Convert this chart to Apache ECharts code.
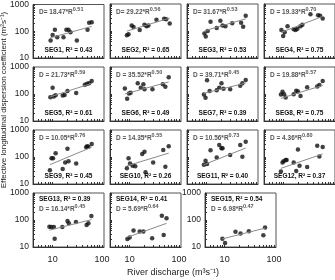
<!DOCTYPE html>
<html>
<head>
<meta charset="utf-8">
<script src="https://cdn.jsdelivr.net/npm/echarts@6/dist/echarts.min.js"></script>
<style>
  html, body { margin: 0; padding: 0; background: #fff; }
  #chart { width: 335px; height: 280px; }
</style>
</head>
<body>
<div id="chart"></div>
<script>
// segment labels, fit stats
const segNames = ['SEG1', 'SEG2', 'SEG3', 'SEG4', 'SEG5', 'SEG6', 'SEG7', 'SEG8',
  'SEG9', 'SEG10', 'SEG11', 'SEG12', 'SEG13', 'SEG14', 'SEG15']
const r2 = ['0.43', '0.65', '0.53', '0.75', '0.61', '0.49', '0.39', '0.75',
  '0.45', '0.26', '0.40', '0.37', '0.39', '0.41', '0.54']
const coef = ['18.47', '29.22', '31.67', '19.33', '21.73', '35.52', '39.71', '19.88',
  '10.05', '14.35', '10.56', '4.36', '16.14', '5.69', '6.98']
const expo = ['0.51', '0.56', '0.53', '0.70', '0.59', '0.50', '0.45', '0.57',
  '0.76', '0.55', '0.73', '0.80', '0.45', '0.64', '0.47']

// [river discharge, dispersion coefficient]
const seg1 = [[9.1, 45], [10, 73], [11.1, 115], [12.4, 60], [16.6, 60], [19, 115], [21, 115], [23, 92], [31, 45], [51, 115], [55, 210], [62, 215]]
const seg2 = [[8.8, 70], [9.5, 75], [11, 160], [12, 140], [16, 110], [20, 170], [22, 150], [24, 160], [35, 260], [50, 285], [55, 270], [65, 190]]
const seg3 = [[9, 80], [9.6, 62], [10.5, 100], [12, 220], [16, 130], [19, 240], [21, 160], [24, 150], [33, 195], [50, 200], [55, 145], [62, 370]]
const seg4 = [[9, 110], [9.8, 65], [10.5, 90], [12, 150], [16, 115], [17.5, 110], [19, 120], [22, 150], [24, 170], [35, 420], [50, 380], [55, 370], [62, 290]]
const seg5 = [[9, 75], [10, 170], [10.5, 80], [11.5, 90], [16, 88], [17.5, 92], [20, 130], [30, 110], [45, 220], [50, 240], [55, 250], [62, 300]]
const seg6 = [[8, 160], [8.9, 67], [9.7, 105], [10.5, 112], [14.6, 250], [16.8, 170], [19, 230], [20, 150], [29, 150], [47, 230], [53, 187], [62, 420]]
const seg7 = [[8.8, 95], [9.5, 72], [10.2, 320], [11.5, 130], [16, 138], [18, 170], [20, 250], [22, 158], [30, 150], [48, 200], [53, 250], [62, 330]]
const seg8 = [[8.8, 95], [9.5, 122], [10.2, 97], [11, 74], [16, 97], [18, 133], [19.5, 125], [22, 85], [30, 177], [48, 190], [53, 215], [62, 300]]
const seg9 = [[8.8, 32], [9.5, 89], [10.2, 89], [11.5, 137], [16, 36], [18, 63], [20, 200], [21, 69], [30, 58], [48, 229], [50, 250], [53, 240], [62, 300]]
const seg10 = [[8.8, 38], [9.5, 89], [10.2, 58], [11.5, 47], [13, 45], [18, 130], [20, 158], [21, 27], [30, 63], [48, 180], [53, 44], [62, 250]]
const seg11 = [[8.8, 52], [9.5, 73], [10.2, 55], [12, 178], [16, 95], [18, 278], [20, 209], [21, 209], [30, 118], [48, 278], [53, 103], [62, 370]]
const seg12 = [[8.8, 29], [9.5, 63], [10, 69], [11, 78], [11.5, 78], [16, 63], [18, 30], [19.5, 190], [21, 47], [30, 43], [48, 260], [53, 105], [62, 235]]
const seg13 = [[8.6, 56], [9.4, 55], [10.6, 55], [11, 20], [15.7, 55], [20, 92], [21.3, 75], [29.7, 84], [48.8, 65], [53, 75], [61, 140]]
const seg14 = [[9, 19.6], [10, 22.5], [12, 41], [16, 37.5], [19, 37.5], [28.6, 21], [45, 144], [49, 28], [56, 115]]
const seg15 = [[9, 20], [10.2, 14], [16.6, 36.5], [21, 31.6], [31, 38.5], [61, 27], [66, 52.5]]
const points = [seg1, seg2, seg3, seg4, seg5, seg6, seg7, seg8, seg9, seg10, seg11, seg12, seg13, seg14, seg15]

// fitted power-law lines, end points
const trends = [
  [[9, 57], [62, 152]], [[8.8, 99], [65, 302]], [[9, 102], [62, 282]], [[9, 90], [62, 347]],
  [[9, 79], [62, 248]], [[8, 100], [62, 280]], [[8.8, 106], [62, 254]], [[8.8, 69], [62, 209]],
  [[8.8, 52], [62, 231]], [[8.8, 47], [62, 139]], [[8.8, 52], [62, 215]], [[8.8, 38], [62, 130]],
  [[8.6, 42], [61, 103]], [[9, 23], [56, 75]], [[9, 20], [66, 50]]
]

const xTicks = [4, 5, 6, 7, 8, 9, 10, 20, 30, 40, 50, 60, 70, 80, 90, 100]
const yTicks = [10, 20, 30, 40, 50, 60, 70, 80, 90, 100, 200, 300, 400, 500, 600, 700, 800, 900, 1000]
const xLabels = [10, 100]
const yLabels = [10, 100, 1000]

const colLeft = [33, 110, 187, 264]
const rowTop = [4, 67, 130, 193]
const W = 71, H = 54

const grids = [], xAxes = [], yAxes = [], series = [], titles = []

points.forEach((pts, i) => {
  const row = Math.floor(i / 4)
  const col = i % 4
  const left = i === 14 ? 205 : colLeft[col]
  const top = rowTop[row]
  const bottomRow = row === 3
  const showY = col === 0 || i === 14

  grids.push({ left: left, top: top, width: W, height: H, show: true, borderColor: '#555', borderWidth: 1 })
  xAxes.push({
    gridIndex: i, type: 'log', logBase: 10, min: 4, max: 110,
    axisLine: { show: true, lineStyle: { color: '#333', width: 1 } },
    axisTick: { show: true, inside: true, length: 2, customValues: xTicks, lineStyle: { color: '#333' } },
    axisLabel: {
      show: bottomRow, customValues: xLabels, fontSize: 9, color: '#222', margin: 8,
      fontFamily: 'Liberation Sans', formatter: v => String(v)
    },
    splitLine: { show: false }
  })
  yAxes.push({
    gridIndex: i, type: 'log', logBase: 10, min: 10, max: 1000,
    axisLine: { show: true, lineStyle: { color: '#333', width: 1 } },
    axisTick: { show: true, inside: true, length: 2, customValues: yTicks, lineStyle: { color: '#333' } },
    axisLabel: {
      show: showY, customValues: yLabels, fontSize: 8.5, color: '#222', margin: 4,
      fontFamily: 'Liberation Sans', formatter: v => String(v)
    },
    splitLine: { show: false }
  })
  series.push({
    type: 'line', xAxisIndex: i, yAxisIndex: i, data: trends[i], showSymbol: false,
    lineStyle: { color: '#8a8a8a', width: 1 }, silent: true
  })
  series.push({
    type: 'scatter', xAxisIndex: i, yAxisIndex: i, data: pts, symbolSize: 4.5,
    itemStyle: { color: '#111' }
  })

  const dTxt = (i < 3 ? 'D= ' : 'D = ') + coef[i] + '*R'
  const eqTitle = {
    left: left + 6, top: bottomRow ? top + 10 : top + 2, padding: 0,
    text: '{t|' + dTxt + '}{s|' + expo[i] + '}',
    textStyle: {
      rich: {
        t: { fontSize: 6.5, color: '#555', fontFamily: 'Liberation Sans', lineHeight: 10, verticalAlign: 'bottom' },
        s: { fontSize: 5.5, color: '#555', fontFamily: 'Liberation Sans', lineHeight: 10, verticalAlign: 'top' }
      }
    }
  }
  const segTitle = {
    left: bottomRow ? left + 6 : left + W / 2, top: bottomRow ? top + 3 : top + 43, padding: 0,
    textAlign: bottomRow ? 'left' : 'center',
    text: segNames[i] + ', R\u00b2 = ' + r2[i],
    textStyle: { fontSize: 6.5, fontWeight: 'bold', color: '#111', fontFamily: 'Liberation Sans' }
  }
  titles.push(eqTitle, segTitle)
})

const chart = echarts.init(document.getElementById('chart'), null, { renderer: 'canvas' })
chart.setOption({
  animation: false,
  title: titles,
  grid: grids,
  xAxis: xAxes,
  yAxis: yAxes,
  series: series,
  graphic: [
    {
      type: 'text', x: 4, y: 100, rotation: Math.PI / 2,
      style: {
        text: 'Effective longitudinal dispersion coefficient (m\u00b2s\u207b\u00b9)',
        fontSize: 8, fill: '#222', fontFamily: 'Liberation Sans', align: 'center', verticalAlign: 'middle'
      }
    },
    {
      type: 'text', x: 173, y: 273,
      style: {
        text: 'River discharge (m\u00b3s\u207b\u00b9)',
        fontSize: 9, fill: '#222', fontFamily: 'Liberation Sans', align: 'center', verticalAlign: 'middle'
      }
    }
  ]
})
</script>
</body>
</html>
